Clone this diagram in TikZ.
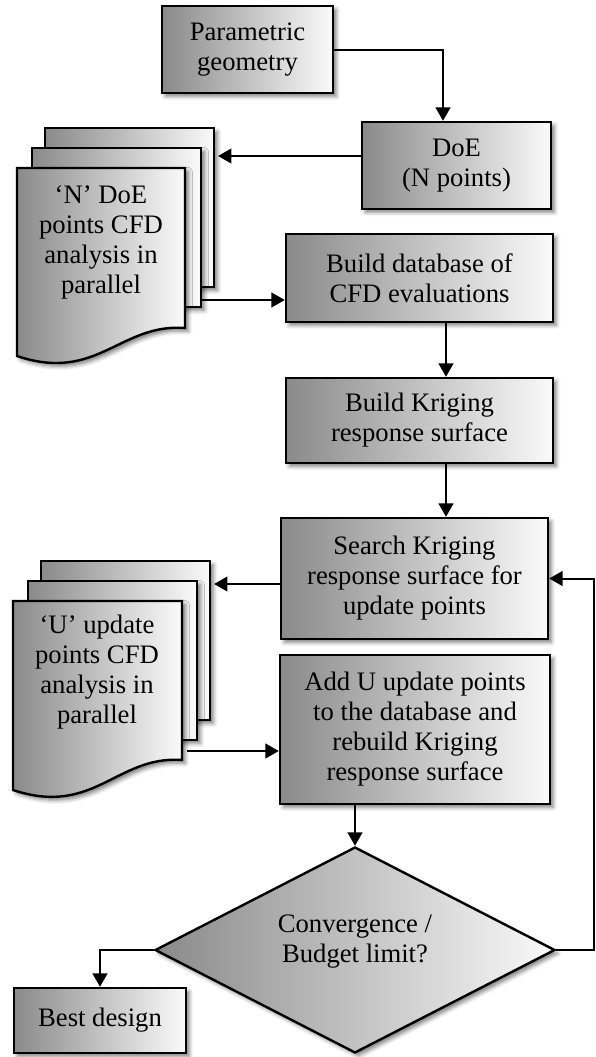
\documentclass[tikz,border=0pt]{standalone}
\usepackage{fontspec}
\setmainfont{Liberation Serif}
\usetikzlibrary{arrows.meta,shapes.geometric,shadows.blur,calc}
\definecolor{lg}{HTML}{8A8A8A}
\definecolor{rg}{HTML}{FAFAFA}
\newcommand\pxu{0.75pt}
\tikzset{
 shd/.style={draw=black, line width=1.8pt, left color=lg, right color=rg,
   blur shadow={shadow xshift=2.5pt, shadow yshift=-2.5pt, shadow blur radius=3pt, shadow opacity=50}},
 box/.style={shd, rectangle, align=center, font=\fontsize{20}{22.5}\selectfont, inner sep=0pt},
 lbl/.style={align=center, font=\fontsize{20}{22.5}\selectfont, inner sep=0pt},
 arr/.style={line width=1.5pt, -{Triangle[length=10pt,width=11pt]}},
 page/.style={shd, rectangle, inner sep=0pt, anchor=north west, minimum width=169*\pxu, minimum height=159*\pxu},
}
\begin{document}
\begin{tikzpicture}[x=0.75pt,y=-0.75pt]
\useasboundingbox (0,0) rectangle (596,1057);

% main boxes
\node[box, minimum width=171*\pxu, minimum height=87*\pxu] (param) at (247.5,49.5) {Parametric\\geometry};
\node[box, minimum width=189*\pxu, minimum height=87*\pxu] (doe) at (456.5,165.5) {DoE\\(N points)};
\node[box, minimum width=267*\pxu, minimum height=88*\pxu] (db) at (419.5,278) {Build database of\\CFD evaluations};
\node[box, minimum width=267*\pxu, minimum height=85*\pxu] (krig) at (419.5,420.5) {Build Kriging\\response surface};
\node[box, minimum width=267*\pxu, minimum height=121*\pxu] (search) at (414.5,578.5) {Search Kriging\\response surface for\\update points};
\node[box, minimum width=270*\pxu, minimum height=149*\pxu] (add) at (415,729.5) {Add U update points\\to the database and\\rebuild Kriging\\response surface};
\node[box, diamond, aspect=1.94, minimum width=400*\pxu, minimum height=206*\pxu,
  label={[lbl, yshift=6pt]center:{Convergence /\\Budget limit?}}] (dia) at (355,950) {};
\node[box, minimum width=172*\pxu, minimum height=65*\pxu] (best) at (100,1020.5) {Best design};

% N stack
\begin{scope}[shift={(17,168)}]
\node[page] (nb) at (27,-41) {};
\node[page] (nm) at (14,-21) {};
\path[shd] (0,0) -- (168,0) -- (168,160) .. controls (103,155) and (80,215) .. (0,188) -- cycle;
\node[lbl] (ntext) at (84,74) {‘N’ DoE\\points CFD\\analysis in\\parallel};
\coordinate (nout) at (184,132);
\end{scope}

% U stack
\begin{scope}[shift={(13,601)}]
\node[page] (ub) at (27,-41) {};
\node[page] (um) at (14,-21) {};
\path[shd] (0,0) -- (169,0) -- (169,159) .. controls (104,154) and (81,216) .. (0,189) -- cycle;
\node[lbl] (utext) at (84,71) {‘U’ update\\points CFD\\analysis in\\parallel};
\coordinate (uout) at (174,150);
\end{scope}

% connectors
\draw[arr] (param.east) -| ($(doe.north)+(-13.5,0)$);
\draw[arr, shorten >=2pt] ($(doe.west)+(0,-9.5)$) coordinate (a1) -- (a1 -| nb.east);
\draw[arr] (nout) -- (nout -| db.west);
\draw[arr] ($(db.south)+(26.5,0)$) coordinate (a2) -- (a2 |- krig.north);
\draw[arr] ($(krig.south)+(26.5,0)$) coordinate (a3) -- (a3 |- search.north);
\draw[arr, shorten >=2pt] ($(search.west)+(0,5.5)$) coordinate (a4) -- (a4 -| ub.east);
\draw[arr] (uout) -- (uout -| add.west);
\draw[arr] (dia.north |- add.south) -- (dia.north);
\draw[arr] (dia.east) -- ++(38,0) |- (search.east);
\draw[arr] (dia.west) -| (best.north);
\end{tikzpicture}
\end{document}
